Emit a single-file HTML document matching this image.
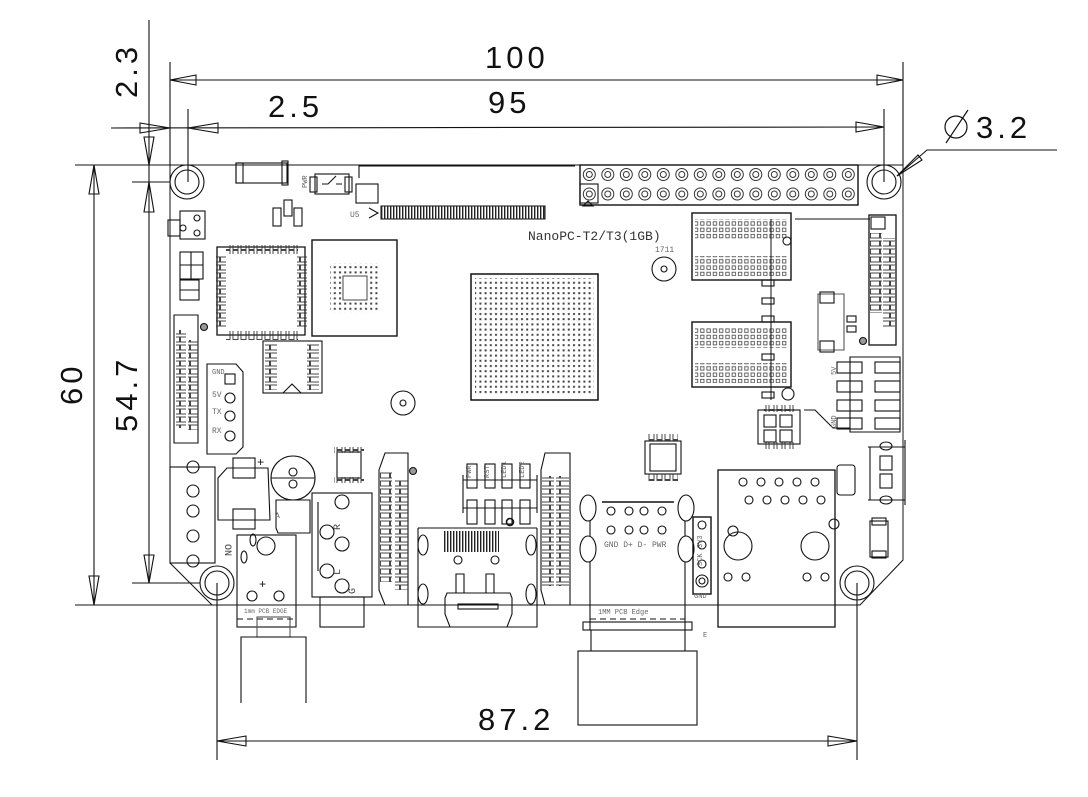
<!DOCTYPE html>
<html><head><meta charset="utf-8"><style>
html,body{margin:0;padding:0;background:#fff}
svg{display:block}
.dim text{font-family:"Liberation Sans",sans-serif}
.mono text{font-family:"Liberation Mono",monospace}
</style></head><body>
<svg width="1088" height="797" viewBox="0 0 1088 797" xmlns="http://www.w3.org/2000/svg">
<defs>
<pattern id="dots" width="5.2" height="5.2" patternUnits="userSpaceOnUse"><rect x="1" y="1" width="2" height="2" fill="#444"/></pattern>
<pattern id="ramdots" width="6.3" height="6.3" patternUnits="userSpaceOnUse"><rect x="1.3" y="1.3" width="3.4" height="3.4" fill="none" stroke="#444" stroke-width="0.8"/></pattern>
<pattern id="hpins" x="580" y="165" width="18.5" height="19.5" patternUnits="userSpaceOnUse"><circle cx="9.3" cy="9.5" r="6" fill="none" stroke="#333" stroke-width="1"/><circle cx="9.3" cy="9.5" r="3" fill="none" stroke="#333" stroke-width="1"/></pattern>
<pattern id="stripeV" width="3" height="20" patternUnits="userSpaceOnUse"><rect x="0" y="0" width="1.4" height="20" fill="#222"/></pattern>
<pattern id="padsV" width="10" height="8" patternUnits="userSpaceOnUse"><rect x="0.5" y="1" width="9" height="5" fill="none" stroke="#333" stroke-width="0.9"/></pattern>
<pattern id="padsH" width="8" height="10" patternUnits="userSpaceOnUse"><rect x="1" y="0.5" width="5" height="9" fill="none" stroke="#333" stroke-width="0.9"/></pattern>
</defs>
<g fill="none" stroke="#111" stroke-width="1.1">
<path d="M170 165 H903 V560 L860 605 H212 L170 563 Z" stroke-width="1"/>
<line x1="170" y1="62" x2="170" y2="165"/>
<line x1="903" y1="62" x2="903" y2="165"/>
<line x1="170" y1="80" x2="903" y2="80"/>
<path d="M170 80 L196 75 V85 Z M903 80 L877 75 V85 Z"/>
<line x1="188" y1="109" x2="188" y2="182"/>
<line x1="884" y1="109" x2="884" y2="182"/>
<line x1="111" y1="128" x2="884" y2="127"/>
<path d="M188 128 L218 123 V133 Z M170 128 L140 123 V133 Z M884 127 L856 122 V132 Z"/>
<line x1="149" y1="20" x2="149" y2="200"/>
<line x1="75" y1="165" x2="170" y2="165"/>
<line x1="132" y1="182" x2="170" y2="182"/>
<path d="M149 165 L144 137 H154 Z M149 182 L144 212 H154 Z"/>
<line x1="149" y1="200" x2="149" y2="583"/>
<path d="M149 583 L144 555 H154 Z"/>
<line x1="132" y1="583" x2="200" y2="583"/>
<line x1="75" y1="605" x2="212" y2="605"/>
<line x1="94" y1="165" x2="94" y2="605"/>
<path d="M94 165 L89 194 H99 Z M94 605 L89 576 H99 Z"/>
<line x1="217" y1="583" x2="217" y2="760"/>
<line x1="857" y1="583" x2="857" y2="760"/>
<line x1="217" y1="741" x2="857" y2="741"/>
<path d="M217 741 L246 736 V746 Z M857 741 L828 736 V746 Z"/>
<path d="M1057 150 H927 L897 176"/>
<path d="M897 176 L918 155 L922 160 Z"/>
<circle cx="187" cy="182" r="17"/><circle cx="187" cy="182" r="12"/>
<circle cx="884" cy="182" r="17"/><circle cx="884" cy="182" r="12"/>
<circle cx="217" cy="583" r="17"/><circle cx="217" cy="583" r="12"/>
<circle cx="857" cy="583" r="17"/><circle cx="857" cy="583" r="12"/>
<circle cx="403" cy="403" r="12"/><circle cx="403" cy="403" r="3"/>
<circle cx="664" cy="269" r="12"/><circle cx="664" cy="269" r="3"/>
<path d="M359 178 V166 H575"/>
<rect x="236" y="163" width="51" height="20"/><rect x="236" y="163" width="7" height="20"/><rect x="282" y="161" width="6" height="24"/>
<rect x="315" y="174" width="34" height="20"/><rect x="310" y="177" width="7" height="15"/><rect x="345" y="177" width="7" height="15"/>
<path d="M322 184 H328 L336 176 M336 184 H342"/>
<rect x="356" y="184" width="22" height="19"/>
<path d="M369 208 L378 213 L369 218"/>
<rect x="381" y="206" width="164" height="13" fill="url(#stripeV)" stroke="#222"/>
<rect x="273" y="208" width="8" height="18"/><rect x="284" y="200" width="8" height="16"/><rect x="294" y="208" width="8" height="18"/>
<rect x="180" y="211" width="25" height="28"/><rect x="168" y="220" width="12" height="16"/>
<circle cx="197" cy="218" r="3"/><circle cx="197" cy="233" r="3"/><circle cx="183" cy="228" r="3"/>
<rect x="180" y="252" width="23" height="27"/><line x1="191" y1="252" x2="191" y2="279"/><line x1="180" y1="265" x2="203" y2="265"/>
<rect x="180" y="280" width="19" height="20"/><line x1="180" y1="290" x2="199" y2="290"/>
<path d="M217 247 V335 H305 V247 Z" stroke-width="1.3"/>
<rect x="226" y="245" width="72" height="9" fill="url(#padsH)" stroke="none"/>
<rect x="226" y="331" width="72" height="9" fill="url(#padsH)" stroke="none"/>
<rect x="216" y="256" width="10" height="72" fill="url(#padsV)" stroke="none"/>
<rect x="297" y="256" width="10" height="72" fill="url(#padsV)" stroke="none"/>
<rect x="312" y="240" width="85" height="96" stroke-width="1.4"/>
<rect x="330" y="263" width="50" height="50" fill="url(#dots)" stroke="none"/>
<rect x="343" y="276" width="24" height="24" fill="#fff" stroke="#555"/>
<rect x="471" y="274" width="127" height="126" stroke-width="1.5"/>
<rect x="475" y="278" width="119" height="118" fill="url(#dots)" stroke="none"/>
<path d="M174 315 H198 V443 H174 Z"/>
<rect x="176" y="330" width="10" height="98" fill="url(#padsV)" stroke="none"/>
<rect x="188" y="340" width="10" height="90" fill="url(#padsV)" stroke="none"/>
<circle cx="204" cy="327" r="3.5" fill="#999"/>
<path d="M207 364 H236 L243 372 V447 L236 454 H207 Z"/>
<rect x="225" y="374" width="10" height="10"/>
<circle cx="230" cy="398" r="5"/><circle cx="230" cy="416" r="5"/><circle cx="230" cy="436" r="5"/>
<rect x="263" y="341" width="59" height="52"/>
<rect x="265" y="344" width="12" height="46" fill="url(#padsV)" stroke="none"/>
<rect x="307" y="344" width="12" height="46" fill="url(#padsV)" stroke="none"/>
<path d="M283 393 L292 384 L301 393"/>
<rect x="580" y="165" width="278" height="40" stroke-width="1.4"/>
<rect x="580" y="165" width="278" height="40" fill="url(#hpins)" stroke="none"/>
<rect x="580" y="184" width="18" height="19"/>
<path d="M583 206 L588 201 L593 206 Z"/>
<rect x="692" y="213" width="99" height="67" stroke-width="1.4"/>
<rect x="695" y="219" width="93" height="20" fill="url(#ramdots)" stroke="none"/>
<rect x="695" y="256" width="93" height="20" fill="url(#ramdots)" stroke="none"/>
<rect x="692" y="322" width="99" height="65" stroke-width="1.4"/>
<rect x="695" y="328" width="93" height="20" fill="url(#ramdots)" stroke="none"/>
<rect x="695" y="363" width="93" height="20" fill="url(#ramdots)" stroke="none"/>
<path d="M771 219 V400 M795 219 H870" stroke-width="1"/>
<circle cx="787" cy="241" r="4"/><circle cx="788" cy="394" r="6"/>
<rect x="762" y="280" width="12" height="6"/><rect x="762" y="298" width="12" height="6"/><rect x="762" y="316" width="12" height="6"/><rect x="762" y="354" width="12" height="6"/><rect x="762" y="392" width="12" height="6"/>
<rect x="869" y="215" width="27" height="130" stroke-width="1.3"/>
<rect x="870" y="233" width="12" height="80" fill="url(#padsV)" stroke="none"/>
<rect x="883" y="238" width="12" height="90" fill="url(#padsV)" stroke="none"/>
<rect x="871" y="217" width="14" height="12"/>
<circle cx="863" cy="341" r="3.5" fill="#999"/>
<path d="M818 294 V350 H844 V294 Z" stroke="#555"/>
<rect x="820" y="292" width="14" height="11"/><rect x="820" y="341" width="14" height="11"/>
<rect x="847" y="316" width="9" height="6"/><rect x="847" y="326" width="9" height="6"/>
<path d="M850 357 H900 V432 H850 Z"/>
<rect x="837" y="362" width="25" height="11"/><rect x="875" y="362" width="25" height="11"/>
<rect x="837" y="381" width="25" height="11"/><rect x="875" y="381" width="25" height="11"/>
<rect x="837" y="400" width="25" height="11"/><rect x="875" y="400" width="25" height="11"/>
<rect x="837" y="418" width="25" height="11"/><rect x="875" y="418" width="25" height="11"/>
<path d="M804 410 H815 L833 428 H850"/>
<rect x="758" y="410" width="42" height="34"/>
<rect x="764" y="405" width="30" height="7" fill="url(#padsH)" stroke="none"/>
<rect x="764" y="442" width="30" height="7" fill="url(#padsH)" stroke="none"/>
<rect x="764" y="415" width="12" height="12"/><rect x="780" y="415" width="12" height="12"/><rect x="764" y="430" width="12" height="12"/><rect x="780" y="430" width="12" height="12"/>
<rect x="645" y="441" width="36" height="33"/>
<rect x="648" y="434" width="30" height="7" fill="url(#padsH)" stroke="none"/>
<rect x="648" y="474" width="30" height="7" fill="url(#padsH)" stroke="none"/>
<rect x="650" y="444" width="26" height="27"/>
<rect x="837" y="465" width="18" height="30" rx="3"/>
<path d="M868 447 H905 M868 500 H905 M870 447 V500 M905 440 V505"/>
<ellipse cx="886" cy="446" rx="6" ry="4"/><ellipse cx="886" cy="500" rx="6" ry="4"/>
<rect x="880" y="456" width="12" height="14"/><rect x="880" y="474" width="12" height="14"/>
<rect x="870" y="521" width="18" height="36"/><rect x="872" y="518" width="14" height="7"/><rect x="872" y="551" width="14" height="7"/>
<rect x="718" y="470" width="117" height="157" stroke-width="1.3"/>
<circle cx="733" cy="531" r="5"/><circle cx="834" cy="524" r="5"/>
<circle cx="738" cy="546" r="14"/><circle cx="815" cy="546" r="14"/>
<circle cx="743" cy="482" r="4"/><circle cx="761" cy="482" r="4"/><circle cx="779" cy="482" r="4"/><circle cx="797" cy="482" r="4"/><circle cx="815" cy="482" r="4"/>
<circle cx="749" cy="500" r="4"/><circle cx="767" cy="500" r="4"/><circle cx="785" cy="500" r="4"/><circle cx="803" cy="500" r="4"/><circle cx="821" cy="500" r="4"/>
<circle cx="728" cy="577" r="4"/><circle cx="746" cy="577" r="4"/><circle cx="807" cy="577" r="4"/><circle cx="825" cy="577" r="4"/>
<line x1="602" y1="502" x2="674" y2="502" stroke-width="1.4"/>
<ellipse cx="588" cy="508" rx="8" ry="13"/><ellipse cx="686" cy="508" rx="8" ry="13"/>
<ellipse cx="588" cy="549" rx="8" ry="13"/><ellipse cx="686" cy="549" rx="8" ry="13"/>
<path d="M590 562 V630 M685 562 V630 M590 521 V536 M685 521 V536"/>
<circle cx="611" cy="511" r="4"/><circle cx="629" cy="511" r="4"/><circle cx="644" cy="511" r="4"/><circle cx="662" cy="511" r="4"/>
<circle cx="611" cy="530" r="4"/><circle cx="629" cy="530" r="4"/><circle cx="644" cy="530" r="4"/><circle cx="662" cy="530" r="4"/>
<rect x="583" y="622" width="109" height="8"/>
<line x1="590" y1="619" x2="685" y2="619" stroke-dasharray="6,4"/>
<path d="M591 630 V651 M685 630 V651"/>
<rect x="578" y="651" width="119" height="74"/>
<rect x="693" y="517" width="18" height="77" stroke-width="1.4"/>
<circle cx="702" cy="525" r="4"/><circle cx="702" cy="545" r="4"/><circle cx="702" cy="564" r="4"/><circle cx="702" cy="581" r="6"/><circle cx="702" cy="581" r="3"/>
<rect x="170" y="467" width="45" height="96"/>
<circle cx="193" cy="467" r="6"/><circle cx="193" cy="491" r="6"/><circle cx="193" cy="511" r="6"/><circle cx="193" cy="536" r="6"/><circle cx="193" cy="561" r="6"/>
<path d="M218 478 L227 468 H268 L270 520 H218 Z"/>
<rect x="233" y="458" width="22" height="20"/><rect x="233" y="509" width="22" height="20"/>
<circle cx="293" cy="478" r="22"/><circle cx="293" cy="472" r="4"/><circle cx="293" cy="484" r="4"/>
<path d="M271 478 H315"/>
<rect x="337" y="452" width="24" height="26"/>
<rect x="334" y="447" width="30" height="6" fill="url(#padsH)" stroke="none"/>
<rect x="334" y="477" width="30" height="6" fill="url(#padsH)" stroke="none"/>
<path d="M276 500 H310 V533 H278 L276 528 Z"/>
<rect x="237" y="535" width="59" height="92"/>
<circle cx="266" cy="546" r="9"/><circle cx="252" cy="596" r="5"/><circle cx="279" cy="596" r="5"/>
<ellipse cx="244" cy="557" rx="3" ry="6"/><ellipse cx="253" cy="540" rx="3" ry="6"/>
<rect x="257" y="617" width="33" height="20" stroke="#555"/>
<line x1="237" y1="619" x2="296" y2="619" stroke-dasharray="6,4"/>
<path d="M241 703 V637 H306 V703"/>
<rect x="312" y="493" width="60" height="104"/>
<path d="M318 502 V571"/>
<circle cx="342" cy="502" r="7"/><circle cx="327" cy="532" r="7"/><circle cx="342" cy="544" r="7"/><circle cx="327" cy="571" r="7"/><circle cx="342" cy="586" r="7"/>
<rect x="320" y="597" width="44" height="30"/>
<path d="M379 470 L385 453 H408 V605 H385 L379 590 Z"/>
<rect x="380" y="472" width="12" height="110" fill="url(#padsV)" stroke="none"/>
<rect x="395" y="480" width="13" height="110" fill="url(#padsV)" stroke="none"/>
<circle cx="413" cy="471" r="3.5" fill="#999"/>
<path d="M541 470 L545 453 H570 V605 H545 L541 590 Z"/>
<rect x="542" y="476" width="12" height="110" fill="url(#padsV)" stroke="none"/>
<rect x="556" y="476" width="13" height="110" fill="url(#padsV)" stroke="none"/>
<path d="M463 475 V513 M537 475 V513 M463 480 H537 M463 508 H537"/>
<rect x="467" y="464" width="10" height="24"/><rect x="485" y="464" width="10" height="24"/><rect x="502" y="464" width="10" height="24"/><rect x="520" y="464" width="10" height="24"/>
<rect x="467" y="500" width="10" height="24"/><rect x="485" y="500" width="10" height="24"/><rect x="502" y="500" width="10" height="24"/><rect x="520" y="500" width="10" height="24"/>
<circle cx="510" cy="522" r="3.5" stroke-width="1.6"/>
<path d="M418 528 H537 M418 528 V627 H537 V528"/>
<rect x="443" y="531" width="56" height="21" fill="url(#stripeV)" stroke="none"/>
<ellipse cx="423" cy="545" rx="5" ry="10"/><ellipse cx="531" cy="545" rx="5" ry="10"/>
<ellipse cx="423" cy="594" rx="5" ry="10"/><ellipse cx="531" cy="594" rx="5" ry="10"/>
<circle cx="458" cy="560" r="4"/><circle cx="495" cy="560" r="4"/>
<path d="M445 598 L447 593 H510 L512 598 V614 L507 627 H450 L445 614 Z"/>
<rect x="458" y="604" width="40" height="5"/>
<path d="M456 593 V574 H464 V593 M486 593 V574 H494 V593"/>
</g>
<g class="dim" fill="#111" font-size="31" letter-spacing="4">
<text x="485" y="68">100</text>
<text x="488" y="113">95</text>
<text x="268" y="117">2.5</text>
<text x="976" y="138">3.2</text>
<text x="478" y="730">87.2</text>
<text transform="translate(137,98) rotate(-90)">2.3</text>
<text transform="translate(82,405) rotate(-90)">60</text>
<text transform="translate(137,432) rotate(-90)">54.7</text>
</g>
<g fill="none" stroke="#111" stroke-width="1.2"><circle cx="956" cy="127" r="11"/><line x1="946" y1="143" x2="968" y2="110"/></g>
<g class="mono" fill="#666">
<text x="528" y="240" font-size="13" fill="#333">NanoPC-T2/T3(1GB)</text>
<text x="655" y="252" font-size="8">1711</text>
<text x="350" y="217" font-size="8">U5</text>
<text x="212" y="374" font-size="7">GND</text>
<text x="212" y="397" font-size="8">5V</text>
<text x="212" y="414" font-size="8">TX</text>
<text x="212" y="433" font-size="8">RX</text>
<text x="604" y="547" font-size="8">GND  D+ D- PWR</text>
<text x="598" y="614" font-size="7">1MM PCB Edge</text>
<text x="244" y="613" font-size="6">1mm PCB EDGE</text>
<text x="703" y="637" font-size="7">E</text>
<text x="694" y="598" font-size="7">GND</text>
<text x="275" y="518" font-size="8">A</text>
<text font-size="7" transform="translate(471,478) rotate(-90)">PWR</text>
<text font-size="7" transform="translate(489,478) rotate(-90)">RST</text>
<text font-size="7" transform="translate(506,478) rotate(-90)">LED1</text>
<text font-size="7" transform="translate(524,478) rotate(-90)">LED2</text>
<text font-size="7" transform="translate(307,188) rotate(-90)">PWR</text>
<text font-size="7" transform="translate(702,548) rotate(-90)">3V3</text>
<text font-size="7" transform="translate(702,566) rotate(-90)">SCK</text>
<text font-size="7" transform="translate(836,375) rotate(-90)">5V</text>
<text font-size="7" transform="translate(836,428) rotate(-90)">GND</text>
<text font-size="12" fill="#111" x="259" y="588">+</text>
<text font-size="12" fill="#111" x="257" y="466">+</text>
<text font-size="10" fill="#444" transform="translate(225,544) rotate(90)">ON</text>
<text font-size="10" fill="#444" transform="translate(340,530) rotate(-90)">R</text>
<text font-size="10" fill="#444" transform="translate(340,575) rotate(-90)">L</text>
<text font-size="10" fill="#444" transform="translate(355,594) rotate(-90)">G</text>
</g>
</svg>
</body></html>
